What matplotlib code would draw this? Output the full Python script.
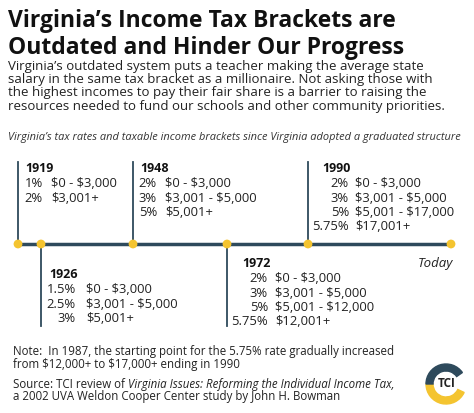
import matplotlib
matplotlib.use("Agg")
import matplotlib.pyplot as plt
from matplotlib.patches import Wedge

plt.rcParams['font.family'] = ['Open Sans', 'DejaVu Sans']
plt.rcParams['text.parse_math'] = False

# data
years = ["1919", "1926", "1948", "1972", "1990"]
rates = [
    ["1%", "2%"],
    ["1.5%", "2.5%", "3%"],
    ["2%", "3%", "5%"],
    ["2%", "3%", "5%", "5.75%"],
    ["2%", "3%", "5%", "5.75%"],
]
brackets = [
    ["$0 - $3,000", "$3,001+"],
    ["$0 - $3,000", "$3,001 - $5,000", "$5,001+"],
    ["$0 - $3,000", "$3,001 - $5,000", "$5,001+"],
    ["$0 - $3,000", "$3,001 - $5,000", "$5,001 - $12,000", "$12,001+"],
    ["$0 - $3,000", "$3,001 - $5,000", "$5,001 - $17,000", "$17,001+"],
]

# layout (pixels)
dot_x = [18, 41, 133, 227, 308]
above = [True, False, True, False, True]
rate_x = [43, 76, 157, 268, 349]
rng_x = [51, 86, 165, 275, 355]
year_x = [25, 49, 140, 242, 322]
line_y = 245
dark = "#2e4a5c"
gold = "#f4c430"
txt = "#222222"

fig = plt.figure(figsize=(4.74, 4.14), dpi=100)
ax = fig.add_axes([0, 0, 1, 1])
ax.set_xlim(0, 474)
ax.set_ylim(414, 0)
ax.axis("off")

ax.text(8, 21, "Virginia’s Income Tax Brackets are", fontsize=16.5, weight="bold", color="#111", va="center")
ax.text(8, 48, "Outdated and Hinder Our Progress", fontsize=16.5, weight="bold", color="#111", va="center")
body = ("Virginia’s outdated system puts a teacher making the average state\n"
        "salary in the same tax bracket as a millionaire. Not asking those with\n"
        "the highest incomes to pay their fair share is a barrier to raising the\n"
        "resources needed to fund our schools and other community priorities.")
ax.text(8, 60, body, fontsize=9.5, color=txt, va="top", linespacing=1.02)
ax.text(8, 138, "Virginia’s tax rates and taxable income brackets since Virginia adopted a graduated structure",
        fontsize=7.9, style="italic", color="#333", va="center")

ax.plot([18, 451], [line_y, line_y], color=dark, lw=2.5, zorder=1)
for i, y in enumerate(years):
    x = dot_x[i]
    if above[i]:
        ax.plot([x, x], [163, line_y], color=dark, lw=1.3, zorder=1)
        y0 = 169
    else:
        ax.plot([x, x], [line_y, 327], color=dark, lw=1.3, zorder=1)
        y0 = 264 if i == 3 else 275
    ax.text(year_x[i], y0, y, fontsize=9, weight="bold", color="#111", va="center")
    for j, (r, b) in enumerate(zip(rates[i], brackets[i])):
        yy = y0 + 15 + j * 14.3
        ax.text(rate_x[i], yy, r, fontsize=9.4, color=txt, va="center", ha="right")
        ax.text(rng_x[i], yy, b, fontsize=9.4, color=txt, va="center", ha="left")
ax.scatter(dot_x + [451], [line_y] * 6, s=40, color=gold, zorder=3, edgecolors="none")
ax.text(453, 264, "Today", fontsize=9.5, style="italic", color=txt, va="center", ha="right")

fs = 8.3
ax.text(13, 358, "Note:  In 1987, the starting point for the 5.75% rate gradually increased\n"
        "from $12,000+ to $17,000+ ending in 1990", fontsize=fs, color=txt, va="center", linespacing=0.95)
t1 = ax.text(13, 385, "Source: TCI review of ", fontsize=fs, color=txt, va="center")
fig.canvas.draw()
bb = t1.get_window_extent()
x2 = ax.transData.inverted().transform((bb.x1, 0))[0]
ax.text(x2, 385, "Virginia Issues: Reforming the Individual Income Tax,", fontsize=fs,
        style="italic", color=txt, va="center")
ax.text(13, 397, "a 2002 UVA Weldon Cooper Center study by John H. Bowman", fontsize=fs, color=txt, va="center")

# logo
c = (446, 385)
ax.add_patch(Wedge(c, 20, 25, 180, width=7, color=gold))
ax.add_patch(Wedge(c, 20, 180, 325, width=7, color=dark))
ax.text(447, 384, "TCI", fontsize=8.5, weight="bold", color="#222", ha="center", va="center")

fig.savefig("out.png", dpi=100, facecolor="white")
